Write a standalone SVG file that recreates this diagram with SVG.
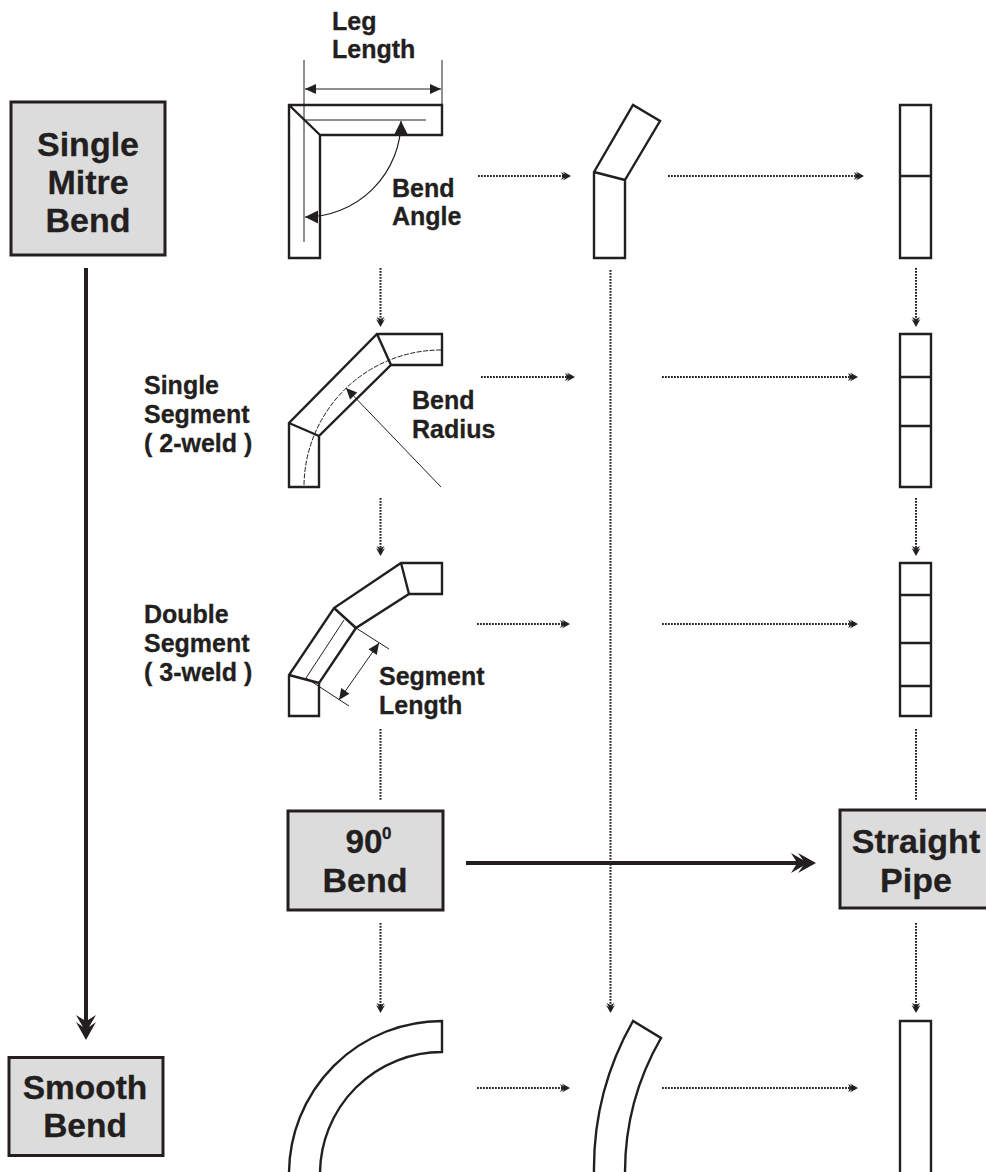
<svg xmlns="http://www.w3.org/2000/svg" width="986" height="1172" viewBox="0 0 986 1172">
<style>
text{font-family:"Liberation Sans",Arial,sans-serif;font-weight:bold;fill:#231f20;stroke:#231f20;stroke-width:.3}
.big{font-size:34px;text-anchor:middle}
.lab{font-size:25px}
.box{fill:#dcdcdc;stroke:#231f20;stroke-width:3}
.pipe{fill:none;stroke:#231f20;stroke-width:2.4;stroke-linejoin:miter}
.thin{fill:none;stroke:#231f20;stroke-width:1}
.dash{fill:none;stroke:#231f20;stroke-width:1;stroke-dasharray:5 1.5}
.dot{fill:none;stroke:#231f20;stroke-width:2;stroke-dasharray:1.8 1.2;marker-end:url(#dh)}
.dotn{fill:none;stroke:#231f20;stroke-width:2;stroke-dasharray:1.8 1.2}
.thick{fill:none;stroke:#231f20;stroke-width:4;marker-end:url(#th)}
.dim{fill:none;stroke:#231f20;stroke-width:1;marker-start:url(#ss);marker-end:url(#se)}
.dim1{fill:none;stroke:#231f20;stroke-width:1;marker-end:url(#se)}
.ang{fill:none;stroke:#231f20;stroke-width:1.200;marker-start:url(#bs);marker-end:url(#be)}
</style>
<defs>
<marker id="th" markerUnits="userSpaceOnUse" markerWidth="26" markerHeight="22" refX="10" refY="11" orient="auto" overflow="visible"><path transform="translate(0,11)" d="M26 0L8-10L13-3L1-10L6-2H0V2H6L1 10L13 3L8 10Z" fill="#231f20"/></marker>
<marker id="dh" markerUnits="userSpaceOnUse" markerWidth="12" markerHeight="10" refX="5" refY="5" orient="auto" overflow="visible"><path transform="translate(0,5)" d="M10 0L2-4.500L4-1.500L0-4L2 0L0 4L4 1.500L2 4.500Z" fill="#231f20"/></marker>
<marker id="se" markerUnits="userSpaceOnUse" markerWidth="12" markerHeight="10" refX="11" refY="5" orient="auto" overflow="visible"><path d="M11 5L0 0V10Z" fill="#231f20"/></marker>
<marker id="ss" markerUnits="userSpaceOnUse" markerWidth="12" markerHeight="10" refX="0" refY="5" orient="auto" overflow="visible"><path d="M0 5L11 0V10Z" fill="#231f20"/></marker>
<marker id="be" markerUnits="userSpaceOnUse" markerWidth="14" markerHeight="14" refX="13" refY="6.500" orient="auto" overflow="visible"><path d="M13 6.500L0 0V13Z" fill="#231f20"/></marker>
<marker id="bs" markerUnits="userSpaceOnUse" markerWidth="14" markerHeight="14" refX="0" refY="6.500" orient="auto" overflow="visible"><path d="M0 6.500L13 0V13Z" fill="#231f20"/></marker>
</defs>
<rect width="986" height="1172" fill="#fff"/>
<g id="connectors">
<path class="thick" d="M86 268V1024"/>
<path class="thick" d="M466 863H800"/>
<path class="dot" d="M478 176H566"/>
<path class="dot" d="M668 176H859"/>
<path class="dot" d="M481 377H570"/>
<path class="dot" d="M662 377H853"/>
<path class="dot" d="M477 624H565"/>
<path class="dot" d="M662 624H853"/>
<path class="dot" d="M477 1088H565"/>
<path class="dot" d="M662 1088H853"/>
<path class="dot" d="M380.500 268V322"/>
<path class="dot" d="M916 268V322"/>
<path class="dot" d="M380.500 498V551"/>
<path class="dot" d="M916 498V551"/>
<path class="dotn" d="M380.500 729V800"/>
<path class="dotn" d="M916 729V800"/>
<path class="dot" d="M380.500 923V1008"/>
<path class="dot" d="M916 923V1008"/>
<path class="dot" d="M610.500 270V1008"/>
</g>
<g id="single-mitre-bend"><rect class="box" x="11" y="102" width="154" height="153"/><text class="big" x="88" y="156">Single</text><text class="big" x="88" y="194">Mitre</text><text class="big" x="88" y="232">Bend</text></g>
<g id="smooth-bend"><rect class="box" x="9" y="1057.500" width="154" height="98"/><text class="big" x="85" y="1099" style="font-size:33.500px">Smooth</text><text class="big" x="85" y="1137" style="font-size:33.500px">Bend</text></g>
<g id="bend-90"><rect class="box" x="288" y="811" width="155" height="99"/><text class="big" x="364" y="853" textLength="37" lengthAdjust="spacingAndGlyphs">90</text><text x="382" y="839" style="font-size:17px">0</text><text class="big" x="365" y="892">Bend</text></g>
<g id="straight-pipe"><rect class="box" x="840" y="810" width="150" height="98"/><text class="big" x="916" y="853">Straight</text><text class="big" x="916" y="892">Pipe</text></g>
<g id="mitre-drawing">
<path class="pipe" d="M289 105H442V135H320V258H289ZM289 105L320 135"/>
<path class="thin" d="M304 60V242M442 60V105M304 120H426"/>
<path class="dim" d="M305 89H441"/>
<path class="ang" d="M401 121A96 96 0 0 1 305 217"/>
<text class="lab" x="332" y="30">Leg</text><text class="lab" x="332" y="58">Length</text>
<text class="lab" x="392" y="197">Bend</text><text class="lab" x="392" y="225">Angle</text>
</g>
<g id="two-weld-drawing">
<path class="pipe" d="M377 334H442V365H391L319 436V487H289V423ZM377 334L391 365M289 423L319 436"/>
<path class="dash" d="M441 350A137 137 0 0 0 304 487"/>
<path class="dim1" d="M441 487L346 388"/>
<text class="lab" x="412" y="409">Bend</text><text class="lab" x="412" y="438">Radius</text>
<text class="lab" x="144" y="394">Single</text><text class="lab" x="144" y="423">Segment</text><text class="lab" x="144" y="452">( 2-weld )</text>
</g>
<g id="three-weld-drawing">
<path class="pipe" d="M401 563H442V594H409L356 628L319 683V716H289V675L334 608ZM401 563L409 594M334 608L356 628M289 675L319 683"/>
<path class="thin" d="M306 678L344 620M356 628L389 649M306 678L349 706"/>
<path class="dim" d="M379 643L339 700"/>
<text class="lab" x="379" y="685">Segment</text><text class="lab" x="379" y="714">Length</text>
<text class="lab" x="144" y="623">Double</text><text class="lab" x="144" y="652">Segment</text><text class="lab" x="144" y="681">( 3-weld )</text>
</g>
<g id="single-mitre-mid"><path class="pipe" d="M594 172L633 105L660 121L625 180V258H594ZM594 172L625 180"/></g>
<g id="straight-1"><path class="pipe" d="M900 105H931V258H900ZM900 176H931"/></g>
<g id="straight-2"><path class="pipe" d="M900 334H931V487H900ZM900 377H931M900 426H931"/></g>
<g id="straight-3"><path class="pipe" d="M900 563H931V716H900ZM900 595H931M900 643H931M900 686H931"/></g>
<g id="smooth-left"><path class="pipe" d="M289 1174A153 153 0 0 1 442 1021V1052A122 122 0 0 0 320 1174"/></g>
<g id="smooth-mid"><path class="pipe" d="M594 1174A300 300 0 0 1 633 1021L661 1038A269 269 0 0 0 625 1174"/></g>
<g id="straight-4"><path class="pipe" d="M900 1174V1021H931V1174"/></g>
</svg>
